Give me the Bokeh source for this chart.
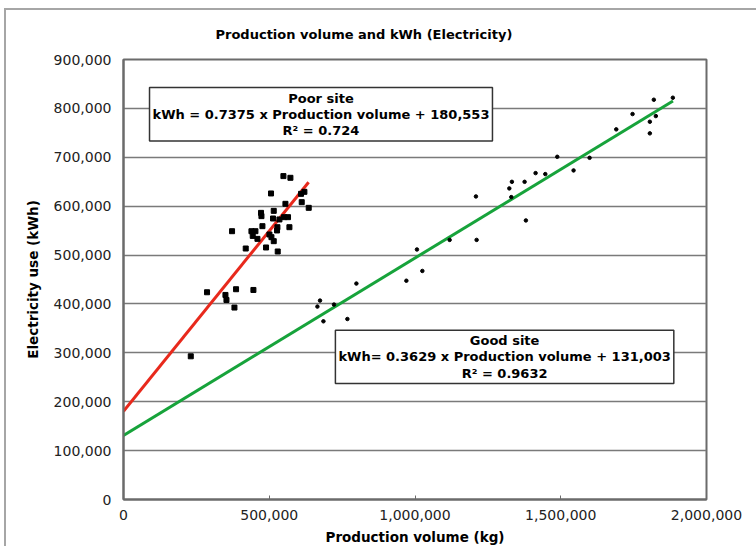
from bokeh.plotting import figure
from bokeh.models import NumeralTickFormatter, Label, FixedTicker
from bokeh.embed import file_html
from bokeh.resources import INLINE

# ---- data ----
poor_x = [548600, 572600, 506100, 620600, 609000, 611400, 555500, 635400, 515400, 471800,
          473200, 513000, 550700, 564400, 534900, 476600, 528000, 569200, 372400, 438900,
          452600, 526700, 443300, 459500, 500600, 507500, 515400, 419300, 489000, 529100,
          286600, 386100, 445700, 349700, 353200, 380600, 230800]
poor_y = [661500, 658000, 626000, 629300, 625200, 608200, 604800, 596600, 590400, 586300,
          579600, 574800, 577500, 577500, 572800, 559100, 557000, 557000, 548800, 548800,
          548800, 550300, 539200, 533100, 542100, 536600, 528400, 513400, 515500, 507300,
          423900, 430100, 428600, 418400, 408100, 392600, 292900]

good_x = [1819300, 1884500, 1746300, 1826200, 1805600, 1805600, 1690400, 1488100, 1598900,
          1544000, 1413700, 1447000, 1332400, 1376000, 1323500, 1330400, 1209000, 1380400,
          1118800, 1211400, 1006700, 1025200, 970400, 798900, 674100, 665200, 722100,
          685800, 768100]
good_y = [817700, 821800, 788400, 784300, 772700, 748900, 757100, 701000, 698900, 673100,
          667600, 665600, 649800, 649800, 636300, 618500, 619900, 570800, 531000, 531000,
          511400, 467500, 447500, 441700, 406900, 394600, 398700, 364500, 369200]

poor_slope, poor_intercept = 0.7375, 180553
good_slope, good_intercept = 0.3629, 131003
poor_line_x = [0, 635000]
good_line_x = [0, 1885000]

x_ticks = [0, 500000, 1000000, 1500000, 2000000]
y_ticks = [0, 100000, 200000, 300000, 400000, 500000, 600000, 700000, 800000, 900000]

title_text = "Production volume and kWh (Electricity)"
x_label = "Production volume (kg)"
y_label = "Electricity use (kWh)"
poor_text = "Poor site\nkWh = 0.7375 x Production volume + 180,553\nR² = 0.724"
good_text = "Good site\nkWh= 0.3629 x Production volume + 131,003\nR² = 0.9632"
poor_box_pos = (677500, 788000)
good_box_pos = (1307400, 291800)

FONT = "DejaVu Sans"

p = figure(frame_width=583, frame_height=440,
           x_range=(0, 2000000), y_range=(0, 900000),
           output_backend="svg", toolbar_location=None,
           min_border_left=117, min_border_right=50,
           min_border_top=49, min_border_bottom=47,
           background_fill_color="white", border_fill_color="white")
p.styles = {"margin-left": "4px", "margin-top": "8px",
            "border-left": "2px solid #a6a6a6", "border-top": "2px solid #a6a6a6"}

p.title.text = title_text
p.title.align = "left"
p.title.offset = 92
p.title.vertical_align = "top"
p.title.standoff = 32
p.title.text_font = FONT
p.title.text_font_size = "13px"
p.title.text_font_style = "bold"
p.title.text_color = "black"

p.outline_line_color = "#6b6b6b"
p.outline_line_width = 2

p.xgrid.visible = False
p.ygrid.ticker = FixedTicker(ticks=y_ticks)
p.ygrid.grid_line_color = "#7a7a7a"
p.ygrid.grid_line_width = 1.5

for ax in (p.xaxis[0], p.yaxis[0]):
    ax.formatter = NumeralTickFormatter(format="0,0")
    ax.axis_line_color = "#6b6b6b"
    ax.axis_line_width = 2
    ax.major_label_text_font = FONT
    ax.major_label_text_font_size = "14px"
    ax.major_label_text_color = "#222222"
    ax.axis_label_text_font = FONT
    ax.axis_label_text_font_size = "13.5px"
    ax.axis_label_text_font_style = "bold"
    ax.axis_label_text_color = "black"
    ax.minor_tick_line_color = None

p.xaxis.ticker = FixedTicker(ticks=x_ticks)
p.yaxis.ticker = FixedTicker(ticks=y_ticks)
p.xaxis.major_tick_in = 4
p.xaxis.major_tick_out = 0
p.xaxis.major_tick_line_color = "#6b6b6b"
p.yaxis.major_tick_in = 0
p.yaxis.major_tick_out = 0
p.xaxis.major_label_standoff = 10
p.yaxis.major_label_standoff = 12
p.xaxis.axis_label = x_label
p.yaxis.axis_label = y_label
p.xaxis.axis_label_standoff = 6
p.yaxis.axis_label_standoff = 10

# trend lines
p.line(poor_line_x, [poor_slope * x + poor_intercept for x in poor_line_x],
       line_color="#e8291c", line_width=3)
p.line(good_line_x, [good_slope * x + good_intercept for x in good_line_x],
       line_color="#17a33b", line_width=3)

# points
p.scatter(poor_x, poor_y, marker="square", size=5, fill_color="black", line_color="black")
p.scatter(good_x, good_y, marker="circle", size=3.5, fill_color="black", line_color="black")

for txt, pos in ((poor_text, poor_box_pos), (good_text, good_box_pos)):
    p.add_layout(Label(x=pos[0], y=pos[1], text=txt, text_align="center",
                       text_baseline="middle", text_font=FONT, text_font_size="13px",
                       text_font_style="bold", text_color="black", text_line_height=1.08,
                       background_fill_color="white", border_line_color="#333333",
                       border_line_width=1.5, padding=3))

open("out.html", "w").write(file_html(p, INLINE))
